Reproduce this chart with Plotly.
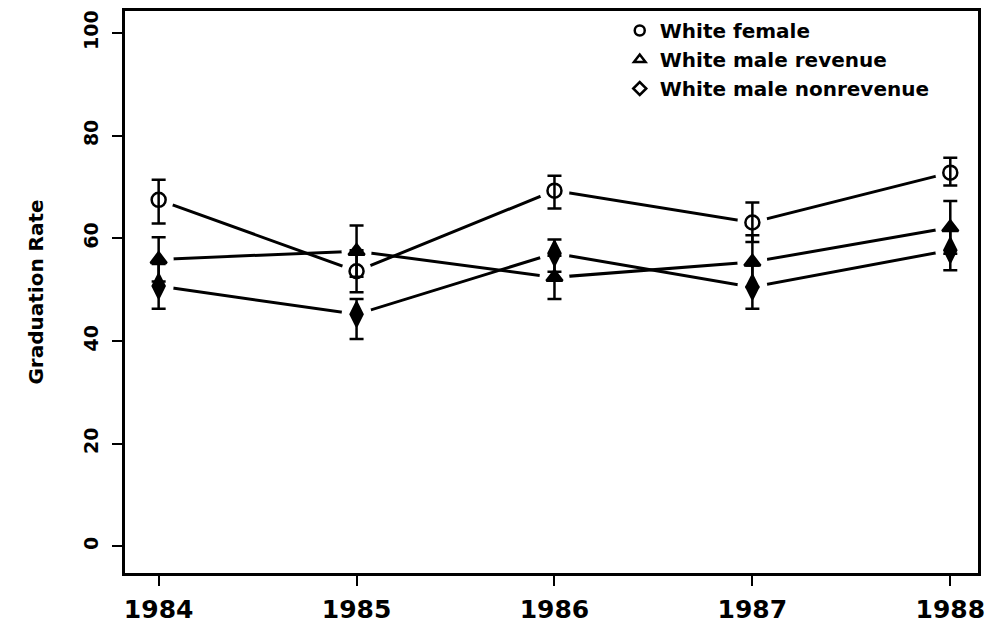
import plotly.graph_objects as go

years = [1984, 1985, 1986, 1987, 1988]

series_names = ["White female", "White male revenue", "White male nonrevenue"]

female = [67.5, 53.6, 69.3, 63.1, 72.8]
female_hi = [71.4, 57.7, 72.2, 67.0, 75.7]
female_lo = [62.9, 49.5, 65.8, 59.3, 70.3]

revenue = [55.9, 57.5, 52.4, 55.4, 62.1]
revenue_hi = [60.2, 62.5, 56.6, 60.6, 67.3]
revenue_lo = [51.6, 52.5, 48.2, 50.5, 57.0]

nonrev = [50.7, 45.2, 57.1, 50.5, 57.7]
nonrev_hi = [55.0, 48.2, 59.8, 54.7, 61.6]
nonrev_lo = [46.3, 40.4, 53.5, 46.3, 53.8]

y_ticks = [0, 20, 40, 60, 80, 100]

data = [
    (female, female_hi, female_lo, "circle-open", "circle-open", 14),
    (revenue, revenue_hi, revenue_lo, "triangle-up", "triangle-up-open", 14),
    (nonrev, nonrev_hi, nonrev_lo, "diamond-tall", "diamond-open", 17),
]

fig = go.Figure()

# connecting lines
for vals, hi, lo, sym, lsym, sz in data:
    fig.add_trace(go.Scatter(x=years, y=vals, mode="lines",
                             line=dict(color="black", width=3),
                             showlegend=False, hoverinfo="skip"))
# white gaps around points (R type="b")
for vals, hi, lo, sym, lsym, sz in data:
    fig.add_trace(go.Scatter(x=years, y=vals, mode="markers",
                             marker=dict(symbol="circle", size=30, color="white",
                                         line=dict(width=0)),
                             showlegend=False, hoverinfo="skip"))
# error bars + markers
for vals, hi, lo, sym, lsym, sz in data:
    fig.add_trace(go.Scatter(
        x=years, y=vals, mode="markers",
        error_y=dict(type="data", symmetric=False,
                     array=[h - v for h, v in zip(hi, vals)],
                     arrayminus=[v - l for l, v in zip(lo, vals)],
                     color="black", thickness=2.5, width=7),
        marker=dict(symbol=sym, size=sz, color="black",
                    line=dict(color="black", width=2.5)),
        showlegend=False))
# legend entries
for (vals, hi, lo, sym, lsym, sz), name in zip(data, series_names):
    fig.add_trace(go.Scatter(x=[None], y=[None], mode="markers", name=name,
                             marker=dict(symbol=lsym, size=10, color="black",
                                         line=dict(color="black", width=2.5))))

axis_common = dict(showline=True, linecolor="black", linewidth=2.5, mirror=True,
                   ticks="outside", ticklen=10, tickwidth=2, tickcolor="black",
                   showgrid=False, zeroline=False, automargin=False)

fig.update_layout(
    width=986, height=630,
    margin=dict(l=125, r=8, t=11, b=57),
    paper_bgcolor="white", plot_bgcolor="white",
    font=dict(family="DejaVu Sans", color="black"),
    xaxis=dict(range=[1983.83, 1988.14], tickvals=years,
               ticktext=[str(y) for y in years],
               tickfont=dict(family="DejaVu Sans", size=25, weight="bold"),
               ticklabelstandoff=2, ticklabeloverflow="allow",
               **axis_common),
    yaxis=dict(range=[-5.2, 104.3], tickvals=y_ticks, tickangle=-90,
               tickfont=dict(family="DejaVu Sans", size=19, weight="bold"),
               ticklabelstandoff=7,
               title=dict(text="Graduation Rate", standoff=31,
                          font=dict(family="DejaVu Sans", size=20, weight="bold")),
               **axis_common),
    legend=dict(x=0.58, y=1.0, xanchor="left", yanchor="top",
                bgcolor="rgba(0,0,0,0)", borderwidth=0,
                font=dict(family="DejaVu Sans", size=20, weight="bold"),
                itemwidth=30, tracegroupgap=0),
    showlegend=True,
)

fig.write_html("out.html",
               config={"displayModeBar": False},
               post_script="document.body.style.margin='0';"
                           "document.body.style.overflow='hidden';")
